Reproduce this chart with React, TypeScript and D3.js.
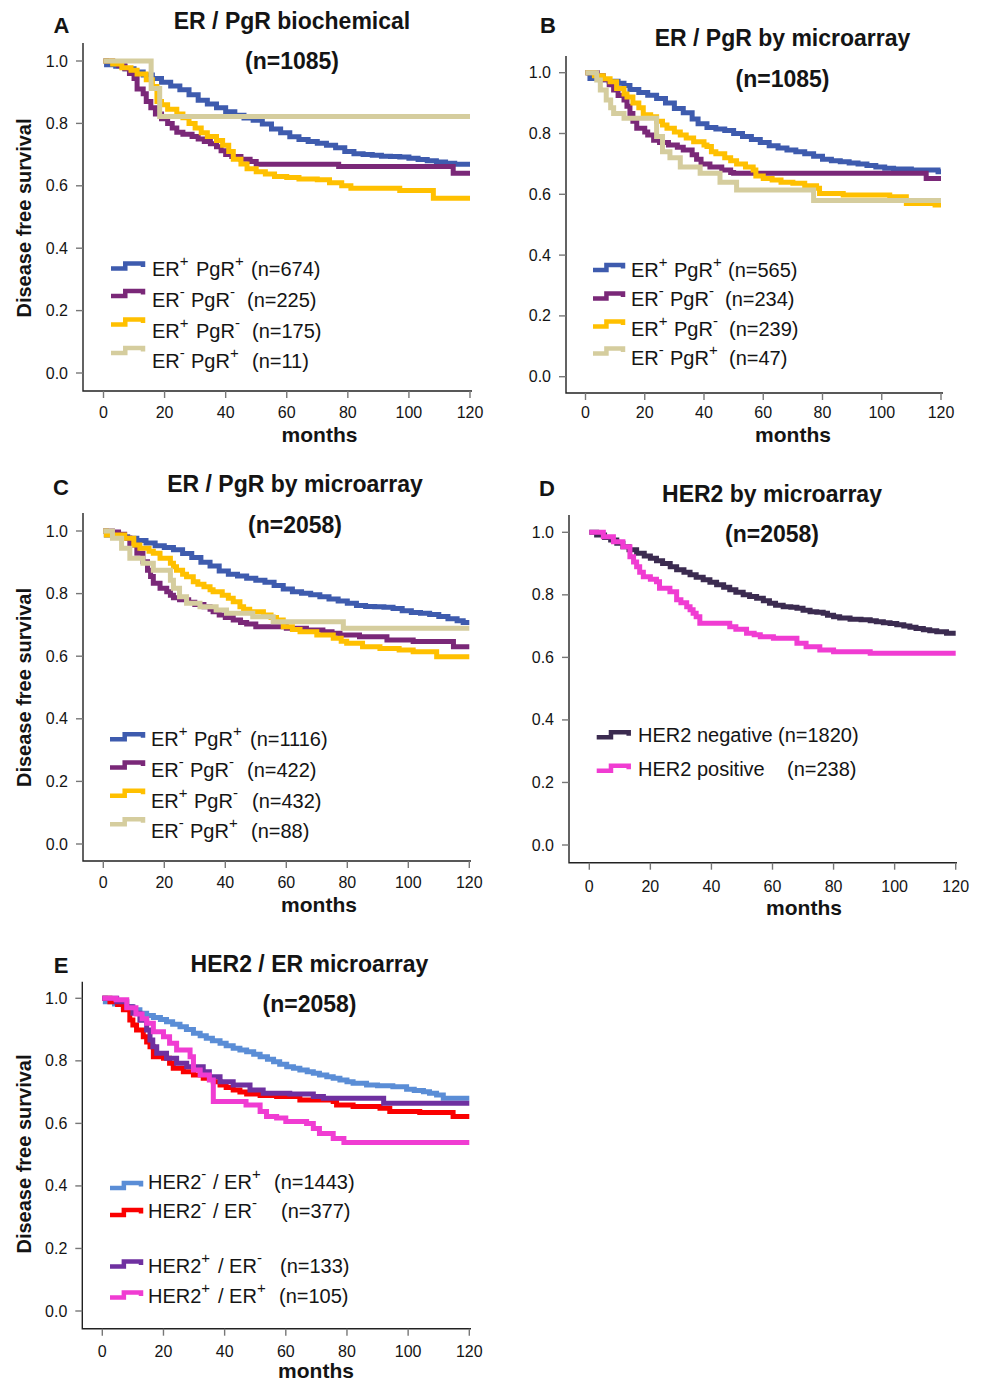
import React from 'react';
import * as d3 from 'd3';

type Pt = [number, number];

// ---- survival curves, [months, survival] ----
const aErPosPgrPos: Pt[] = [[0,1],[1,0.988],[4,0.983],[7,0.975],[10,0.965],[13,0.955],[16,0.944],[19,0.932],[22,0.92],[25,0.908],[28,0.892],[31,0.874],[34,0.862],[37,0.85],[40,0.837],[43,0.826],[46,0.817],[49,0.81],[52,0.798],[55,0.782],[58,0.77],[61,0.757],[64,0.748],[67,0.742],[70,0.736],[73,0.73],[76,0.722],[79,0.71],[82,0.703],[85,0.7],[88,0.698],[91,0.695],[94,0.694],[97,0.692],[100,0.688],[103,0.684],[106,0.68],[109,0.676],[112,0.672],[115,0.669],[120,0.669]];
const aErNegPgrNeg: Pt[] = [[0,1],[3,0.995],[5,0.985],[7,0.975],[8.5,0.96],[10,0.944],[11,0.91],[13,0.895],[14,0.87],[15.5,0.85],[17,0.83],[19,0.815],[21,0.8],[22.5,0.785],[24,0.772],[26,0.765],[29,0.758],[31,0.75],[33,0.742],[35,0.735],[37,0.725],[38.5,0.712],[40,0.7],[42,0.694],[45,0.685],[48,0.678],[50,0.669],[77,0.662],[114.5,0.64],[120,0.64]];
const aErPosPgrNeg: Pt[] = [[0,1],[3,0.99],[6,0.978],[9,0.97],[11,0.958],[14,0.94],[16,0.918],[17.5,0.87],[19,0.86],[21,0.845],[24,0.83],[26,0.818],[28,0.8],[30,0.785],[32,0.77],[34,0.758],[37,0.745],[39,0.73],[41,0.71],[42.5,0.685],[45,0.67],[47,0.655],[50,0.645],[53,0.638],[56,0.63],[60,0.627],[64,0.622],[70,0.619],[74,0.61],[78,0.6],[81,0.592],[97,0.585],[108,0.56],[120,0.56]];
const aErNegPgrPos: Pt[] = [[0,1],[15.6,0.912],[18.4,0.822],[120,0.822]];

const bErPosPgrPos: Pt[] = [[0,1],[1.5,0.981],[5,0.977],[8,0.972],[11,0.965],[13,0.958],[15,0.945],[18,0.935],[21,0.926],[24,0.915],[27,0.9],[30,0.882],[33,0.868],[36,0.848],[38,0.832],[41,0.82],[44,0.815],[47,0.81],[50,0.8],[53,0.79],[56,0.78],[59,0.77],[62,0.76],[65,0.752],[68,0.746],[71,0.74],[74,0.733],[77,0.725],[80,0.715],[83,0.71],[86,0.707],[89,0.703],[92,0.7],[95,0.695],[98,0.69],[101,0.686],[104,0.683],[110,0.68],[119,0.674],[120,0.674]];
const bErNegPgrNeg: Pt[] = [[0,1],[4,0.99],[6,0.977],[8,0.96],[9.5,0.943],[11,0.925],[13,0.91],[14,0.89],[15,0.866],[16,0.84],[17.3,0.817],[20,0.805],[21,0.795],[23,0.778],[25,0.77],[28,0.762],[31,0.755],[33,0.746],[36,0.73],[37.5,0.715],[39,0.7],[42,0.69],[46,0.68],[49,0.672],[50,0.669],[115,0.652],[120,0.652]];
const bErPosPgrNeg: Pt[] = [[0,1],[3,0.99],[6,0.98],[8.3,0.97],[10.5,0.948],[13,0.93],[14,0.92],[16,0.9],[18,0.885],[19.5,0.862],[22,0.855],[24,0.84],[26,0.828],[27.5,0.817],[30,0.805],[32,0.795],[34,0.785],[36.5,0.773],[40,0.762],[41,0.757],[42.5,0.74],[44,0.733],[47,0.72],[49,0.71],[51,0.7],[54,0.69],[56.6,0.68],[57.5,0.66],[60,0.652],[63,0.647],[66,0.64],[70,0.636],[74,0.628],[78,0.62],[79,0.603],[87,0.598],[102.7,0.592],[108.3,0.57],[118,0.565],[120,0.565]];
const bErNegPgrPos: Pt[] = [[0,1],[3.8,0.976],[5,0.943],[7,0.91],[8.5,0.885],[9.5,0.866],[13,0.85],[24,0.79],[26,0.74],[28.5,0.72],[32,0.69],[38.7,0.669],[45.4,0.64],[51,0.614],[77,0.58],[120,0.58]];

const cErPosPgrPos: Pt[] = [[0,1],[1,0.987],[5,0.982],[8,0.977],[11,0.97],[14,0.962],[17,0.953],[20,0.947],[23,0.94],[26,0.928],[29,0.915],[32,0.9],[35,0.888],[38,0.872],[41,0.862],[44,0.856],[47,0.849],[50,0.843],[53,0.836],[56,0.826],[59,0.815],[62,0.806],[65,0.801],[68,0.796],[71,0.79],[74,0.783],[77,0.776],[80,0.769],[83,0.762],[86,0.759],[89,0.758],[92,0.756],[95,0.752],[98,0.745],[101,0.74],[104,0.737],[107,0.733],[110,0.727],[113,0.72],[116,0.713],[118,0.708],[120,0.708]];
const cErNegPgrNeg: Pt[] = [[0,1],[3,0.997],[5,0.99],[7,0.978],[8.7,0.955],[11,0.929],[13,0.902],[14.5,0.875],[15.5,0.855],[16.4,0.833],[18.6,0.817],[20.8,0.806],[22,0.795],[23,0.787],[25,0.78],[28,0.772],[30,0.765],[33,0.758],[35,0.75],[36,0.742],[38,0.732],[40,0.724],[42.6,0.716],[45,0.708],[47,0.703],[50,0.694],[60,0.689],[66.6,0.684],[72,0.678],[75,0.673],[77.6,0.668],[84,0.662],[93,0.652],[101.6,0.647],[114.8,0.63],[120,0.63]];
const cErPosPgrNeg: Pt[] = [[0,1],[1,0.987],[7,0.977],[10,0.955],[12,0.945],[15,0.935],[16.4,0.929],[18.6,0.913],[22,0.897],[23,0.886],[24,0.875],[26,0.862],[27.3,0.854],[29.5,0.838],[31,0.83],[33,0.822],[35,0.812],[36,0.806],[39,0.795],[41,0.785],[42.6,0.774],[44.8,0.758],[46,0.75],[48,0.742],[52.5,0.732],[55,0.724],[56.8,0.716],[59,0.694],[62,0.685],[64.5,0.678],[70,0.668],[75.4,0.657],[78,0.648],[79.8,0.641],[85,0.63],[90.7,0.625],[97,0.62],[101.6,0.614],[109.3,0.598],[120,0.598]];
const cErNegPgrPos: Pt[] = [[0,1],[3,0.977],[6,0.945],[8.7,0.913],[13,0.897],[16.4,0.875],[22,0.843],[23,0.817],[25,0.79],[27.3,0.769],[31.7,0.758],[37,0.748],[40.4,0.737],[49,0.726],[55.7,0.71],[78.7,0.689],[120,0.689]];

const dHer2Neg: Pt[] = [[0,1],[2.4,0.991],[5,0.983],[7,0.975],[9,0.965],[11,0.954],[13,0.944],[15.5,0.933],[18,0.924],[20,0.917],[22,0.909],[24,0.9],[26.5,0.89],[28.6,0.88],[31,0.872],[33,0.864],[35,0.856],[37.3,0.848],[39.5,0.84],[41.7,0.832],[44,0.824],[46,0.816],[48,0.808],[50.4,0.8],[52.5,0.795],[54.8,0.789],[57,0.781],[59,0.773],[61,0.767],[63.5,0.762],[66,0.76],[68,0.757],[70,0.751],[72.3,0.746],[74.5,0.744],[76.6,0.741],[78,0.735],[80,0.73],[82,0.726],[85.4,0.722],[89,0.72],[92,0.717],[94,0.714],[96.3,0.711],[98.5,0.708],[100.7,0.704],[103,0.7],[105,0.696],[107,0.692],[109.4,0.688],[111.5,0.685],[113.8,0.682],[117,0.677],[120,0.677]];
const dHer2Pos: Pt[] = [[0,1],[4.6,0.986],[7.9,0.97],[11,0.954],[13.3,0.922],[14.5,0.905],[15.5,0.89],[16.5,0.872],[17.7,0.858],[20,0.85],[22,0.842],[23,0.821],[26.4,0.81],[28.6,0.784],[30,0.775],[31.9,0.762],[33,0.752],[34,0.741],[35,0.73],[36.2,0.709],[46,0.698],[48,0.69],[51.5,0.677],[54,0.672],[56,0.666],[60.3,0.661],[68,0.645],[71,0.634],[75.5,0.624],[80,0.618],[92,0.613],[120,0.613]];

const eHer2NegErPos: Pt[] = [[0,1],[1,0.989],[4,0.982],[6.9,0.973],[9.5,0.963],[12.3,0.952],[14.5,0.945],[16.7,0.939],[19,0.932],[21,0.925],[23,0.917],[25.4,0.909],[27.5,0.9],[29.8,0.888],[32,0.88],[34,0.872],[36,0.864],[38.5,0.856],[40.5,0.848],[42.8,0.84],[45,0.835],[47.2,0.829],[49.5,0.821],[51.6,0.813],[54,0.805],[56,0.797],[58,0.789],[60.3,0.781],[62.5,0.776],[64.6,0.771],[67,0.765],[69,0.76],[71,0.755],[73.4,0.749],[75.5,0.744],[77.7,0.739],[80,0.733],[82,0.728],[86.4,0.723],[90,0.72],[95,0.717],[99.5,0.709],[102,0.705],[105,0.701],[107,0.696],[109.3,0.691],[111.5,0.68],[120,0.68]];
const eHer2NegErNeg: Pt[] = [[0,1],[2.5,0.989],[5,0.98],[6.9,0.963],[9,0.931],[10,0.915],[11.2,0.899],[13.4,0.877],[14.5,0.86],[15.6,0.845],[16.7,0.813],[20,0.808],[22,0.792],[23.2,0.776],[26.5,0.765],[29.8,0.755],[33,0.744],[36.3,0.733],[38.5,0.723],[40.5,0.715],[42.8,0.707],[45,0.7],[47.2,0.694],[51.6,0.689],[57,0.686],[64.6,0.675],[75.5,0.67],[76.6,0.659],[82,0.654],[90.8,0.648],[94,0.638],[103.8,0.635],[114.7,0.622],[120,0.622]];
const eHer2PosErNeg: Pt[] = [[0,1],[4.7,0.989],[8,0.973],[10,0.952],[12.3,0.93],[14.5,0.899],[15.6,0.867],[16.5,0.845],[17.8,0.824],[21,0.808],[24.3,0.792],[27.6,0.781],[33,0.765],[35,0.749],[38.5,0.733],[42.8,0.723],[48.3,0.707],[52.6,0.696],[61.3,0.694],[69,0.686],[72.3,0.68],[92,0.664],[120,0.664]];
const eHer2PosErPos: Pt[] = [[0,1],[3.6,1],[4.5,0.995],[8,0.97],[11,0.95],[13,0.935],[14.5,0.92],[16.7,0.893],[20,0.877],[22,0.856],[24.3,0.835],[28.7,0.813],[29.8,0.771],[32,0.755],[35,0.739],[36.3,0.67],[47,0.659],[51.6,0.638],[53.7,0.622],[57,0.617],[60,0.606],[66.8,0.6],[69,0.584],[71,0.568],[75.5,0.552],[79,0.539],[120,0.539]];

// ---- labels ----
const panelLetters = ['A', 'B', 'C', 'D', 'E'];
const panelTitles = ['ER / PgR biochemical', 'ER / PgR by microarray', 'ER / PgR by microarray', 'HER2 by microarray', 'HER2 / ER microarray'];
const panelCounts = ['(n=1085)', '(n=1085)', '(n=2058)', '(n=2058)', '(n=2058)'];
const legendA = [['ER^+', 'PgR^+', '(n=674)'], ['ER^-', 'PgR^-', '(n=225)'], ['ER^+', 'PgR^-', '(n=175)'], ['ER^-', 'PgR^+', '(n=11)']];
const legendB = [['ER^+', 'PgR^+', '(n=565)'], ['ER^-', 'PgR^-', '(n=234)'], ['ER^+', 'PgR^-', '(n=239)'], ['ER^-', 'PgR^+', '(n=47)']];
const legendC = [['ER^+', 'PgR^+', '(n=1116)'], ['ER^-', 'PgR^-', '(n=422)'], ['ER^+', 'PgR^-', '(n=432)'], ['ER^-', 'PgR^+', '(n=88)']];
const legendD = [['HER2 negative', '(n=1820)'], ['HER2 positive', '(n=238)']];
const legendE = [['HER2^-', '/ ER^+', '(n=1443)'], ['HER2^-', '/ ER^-', '(n=377)'], ['HER2^+', '/ ER^-', '(n=133)'], ['HER2^+', '/ ER^+', '(n=105)']];
const xTicks = [0, 20, 40, 60, 80, 100, 120];
const yTicks = [0, 0.2, 0.4, 0.6, 0.8, 1.0];

const erColors = ['#3e5bae', '#7a2878', '#ffc000', '#d5cd9e'];
const her2Colors = ['#3b2b50', '#f03cd2'];
const her2ErColors = ['#5a8dd6', '#fa0000', '#6f30a0', '#f03cd2'];

interface PanelLayout {
  ax: number; top: number; bottom: number; right: number;
  x0: number; x120: number; y1: number; y0: number;
  letter: [number, number]; titleX: number; titleY: number; countY: number;
  yLabelY: number | null; monthsX: number; monthsY: number; tickLabelY: number;
  glyphX: [number, number]; glyphY: number[]; textY: number[]; cols: number[][];
}

const FONT = '"Liberation Sans", Arial, Helvetica, sans-serif';
const INK = '#141414';

const layouts: PanelLayout[] = [
  { ax: 83, top: 43, bottom: 391, right: 472, x0: 103.5, x120: 470, y1: 61, y0: 373,
    letter: [61.5, 33], titleX: 292, titleY: 29, countY: 69, yLabelY: 218, monthsX: 319.5, monthsY: 441.5, tickLabelY: 418,
    glyphX: [111, 145], glyphY: [266, 293.5, 322, 350.5], textY: [276, 306.7, 338, 368.3],
    cols: [[152, 196, 251], [152, 191, 247], [152, 196, 252], [152, 191, 252]] },
  { ax: 566, top: 56, bottom: 393, right: 943, x0: 585.5, x120: 941, y1: 72.7, y0: 376.7,
    letter: [548, 33], titleX: 782.5, titleY: 46, countY: 87, yLabelY: null, monthsX: 793, monthsY: 442, tickLabelY: 418,
    glyphX: [593, 625], glyphY: [267.5, 296, 324, 351], textY: [277, 306, 336, 365],
    cols: [[631, 674, 728], [631, 670, 725], [631, 674, 729], [631, 670, 729]] },
  { ax: 83, top: 513, bottom: 861, right: 471, x0: 103.3, x120: 469.3, y1: 531, y0: 844,
    letter: [61, 495], titleX: 295, titleY: 492, countY: 533, yLabelY: 687.5, monthsX: 319, monthsY: 911.5, tickLabelY: 888,
    glyphX: [110, 145], glyphY: [736.7, 765, 793.3, 821.7], textY: [746, 776.7, 807.7, 838.3],
    cols: [[151, 194, 250], [151, 190, 247], [151, 194, 252], [151, 190, 251]] },
  { ax: 569, top: 515, bottom: 862.7, right: 957, x0: 589.3, x120: 955.7, y1: 532.3, y0: 845,
    letter: [547, 496], titleX: 772, titleY: 501.5, countY: 541.5, yLabelY: null, monthsX: 804, monthsY: 915, tickLabelY: 891.5,
    glyphX: [596.7, 630.7], glyphY: [734.7, 768.3], textY: [741.7, 776],
    cols: [[638, 778], [638, 787]] },
  { ax: 82.3, top: 981.7, bottom: 1328.7, right: 471, x0: 102.3, x120: 469.3, y1: 998.3, y0: 1311,
    letter: [61, 973], titleX: 309.5, titleY: 971.5, countY: 1011.5, yLabelY: 1154, monthsX: 316, monthsY: 1378, tickLabelY: 1356.5,
    glyphX: [110, 143], glyphY: [1185.5, 1212.5, 1264, 1295], textY: [1189.3, 1218.3, 1273.3, 1303.3],
    cols: [[148, 213, 274], [148, 213, 281], [148, 218, 280], [148, 218, 279]] },
];

const panelSeries: Pt[][][] = [
  [aErPosPgrPos, aErNegPgrNeg, aErPosPgrNeg, aErNegPgrPos],
  [bErPosPgrPos, bErNegPgrNeg, bErPosPgrNeg, bErNegPgrPos],
  [cErPosPgrPos, cErNegPgrNeg, cErPosPgrNeg, cErNegPgrPos],
  [dHer2Neg, dHer2Pos],
  [eHer2NegErPos, eHer2NegErNeg, eHer2PosErNeg, eHer2PosErPos],
];
const panelColors = [erColors, erColors, erColors, her2Colors, her2ErColors];
const panelLegends = [legendA, legendB, legendC, legendD, legendE];

// text with "^x" superscripts
const Rich: React.FC<{ s: string; x: number; y: number }> = ({ s, x, y }) => {
  const parts = s.split(/(\^.)/).filter(Boolean);
  let shift = 0;
  return (
    <text x={x} y={y} fontSize={20} fill={INK} fontFamily={FONT}>
      {parts.map((p, i) => {
        if (p[0] === '^') {
          const dy = -10 - shift;
          shift = -10;
          return <tspan key={i} dy={dy} fontSize={15}>{p[1]}</tspan>;
        }
        const dy = -shift;
        shift = 0;
        return <tspan key={i} dy={dy}>{p}</tspan>;
      })}
    </text>
  );
};

const Panel: React.FC<{ idx: number }> = ({ idx }) => {
  const L = layouts[idx];
  const x = d3.scaleLinear().domain([0, 120]).range([L.x0, L.x120]);
  const y = d3.scaleLinear().domain([0, 1]).range([L.y0, L.y1]);
  const line = d3.line<Pt>().x(d => x(d[0])).y(d => y(d[1])).curve(d3.curveStepAfter);
  const colors = panelColors[idx];
  const fmt = d3.format('.1f');
  const [gx0, gx1] = L.glyphX;
  const gw = gx1 - gx0;

  return (
    <g>
      <text x={L.letter[0]} y={L.letter[1]} textAnchor="middle" fontSize={22} fontWeight="bold" fontFamily={FONT} fill={INK}>{panelLetters[idx]}</text>
      <text x={L.titleX} y={L.titleY} textAnchor="middle" fontSize={23} fontWeight="bold" fontFamily={FONT} fill={INK}>{panelTitles[idx]}</text>
      <text x={L.titleX} y={L.countY} textAnchor="middle" fontSize={23} fontWeight="bold" fontFamily={FONT} fill={INK}>{panelCounts[idx]}</text>

      {/* axes */}
      <path d={`M${L.ax},${L.top}V${L.bottom}H${L.right}`} fill="none" stroke="#222" strokeWidth={1.4} />
      {yTicks.map(t => (
        <g key={`y${t}`}>
          <line x1={L.ax - 7} x2={L.ax} y1={y(t)} y2={y(t)} stroke="#777" strokeWidth={1.4} />
          <text x={L.ax - 15} y={y(t) + 5.5} textAnchor="end" fontSize={16} fontFamily={FONT} fill={INK}>{fmt(t)}</text>
        </g>
      ))}
      {xTicks.map(t => (
        <g key={`x${t}`}>
          <line x1={x(t)} x2={x(t)} y1={L.bottom} y2={L.bottom + 7} stroke="#777" strokeWidth={1.4} />
          <text x={x(t)} y={L.tickLabelY} textAnchor="middle" fontSize={16} fontFamily={FONT} fill={INK}>{t}</text>
        </g>
      ))}
      <text x={L.monthsX} y={L.monthsY} textAnchor="middle" fontSize={21} fontWeight="bold" fontFamily={FONT} fill={INK}>months</text>
      {L.yLabelY !== null && (
        <text transform={`translate(31,${L.yLabelY}) rotate(-90)`} textAnchor="middle" fontSize={20} fontWeight="bold" fontFamily={FONT} fill={INK}>Disease free survival</text>
      )}

      {/* curves */}
      {panelSeries[idx].map((s, i) => (
        <path key={`c${i}`} d={line(s) || ''} fill="none" stroke={colors[i]} strokeWidth={5} strokeLinejoin="miter" />
      ))}

      {/* legend */}
      {panelLegends[idx].map((row, i) => {
        const gy = L.glyphY[i];
        return (
          <g key={`l${i}`}>
            <path d={`M${gx0},${gy + 2.5}H${gx0 + gw * 0.42}V${gy - 2.5}H${gx1 - 2}V${gy + 1}`} fill="none" stroke={colors[i]} strokeWidth={4.5} />
            {row.map((part, j) => (
              <Rich key={j} s={part} x={L.cols[i][j]} y={L.textY[i]} />
            ))}
          </g>
        );
      })}
    </g>
  );
};

export default function App() {
  return (
    <svg width={982} height={1382} viewBox="0 0 982 1382" style={{ position: 'absolute', left: 0, top: 0, background: '#fff' }}>
      <rect width={982} height={1382} fill="#fff" />
      {layouts.map((_, i) => <Panel key={i} idx={i} />)}
    </svg>
  );
}
